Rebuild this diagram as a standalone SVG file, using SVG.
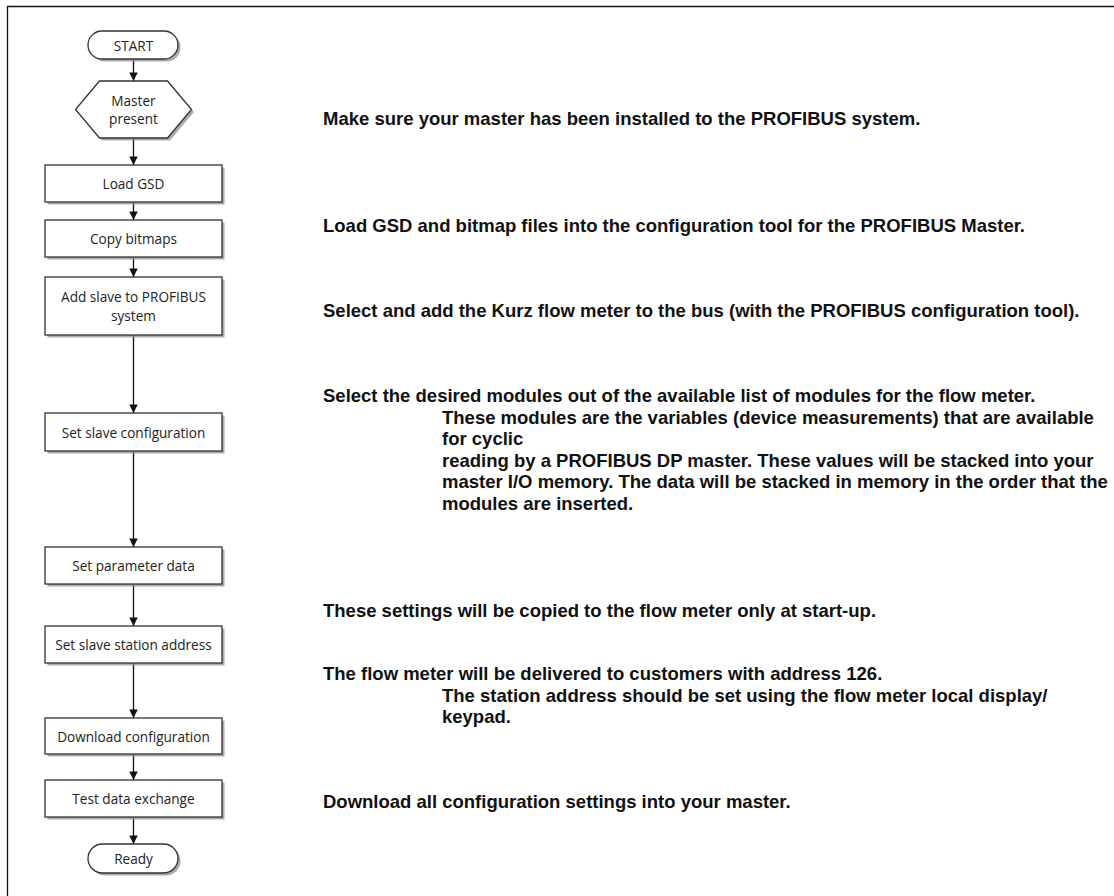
<svg xmlns="http://www.w3.org/2000/svg" width="1114" height="896" viewBox="0 0 1114 896">
<defs>
<style>
.box{fill:#fff;stroke:#333;stroke-width:1.3}
.sh{fill:#8f8f8f;opacity:0.75}
.nt{font-family:"Open Sans","Noto Sans",sans-serif;font-size:13.6px;fill:#222;text-anchor:middle}
.ds{font-family:"Liberation Sans",Arial,sans-serif;font-size:18.5px;font-weight:bold;fill:#111}
.cn{stroke:#111;stroke-width:1.3;fill:none}
</style>
<marker id="ah" viewBox="0 0 10 10" refX="10" refY="5" markerWidth="10" markerHeight="8.5" markerUnits="userSpaceOnUse" orient="auto">
<path d="M0,0 L10,5 L0,10 Z" fill="#111"/>
</marker>
</defs>
<rect x="0" y="0" width="1114" height="896" fill="#fff"/>
<path d="M7.5,896 V6.5 H1114" fill="none" stroke="#111" stroke-width="1.3"/>

<g id="connectors">
<line class="cn" x1="133.5" y1="59" x2="133.5" y2="81" marker-end="url(#ah)"/>
<line class="cn" x1="133.5" y1="138" x2="133.5" y2="165" marker-end="url(#ah)"/>
<line class="cn" x1="133.5" y1="202" x2="133.5" y2="220" marker-end="url(#ah)"/>
<line class="cn" x1="133.5" y1="257" x2="133.5" y2="277" marker-end="url(#ah)"/>
<line class="cn" x1="133.5" y1="335" x2="133.5" y2="413" marker-end="url(#ah)"/>
<line class="cn" x1="133.5" y1="451" x2="133.5" y2="547" marker-end="url(#ah)"/>
<line class="cn" x1="133.5" y1="584" x2="133.5" y2="626" marker-end="url(#ah)"/>
<line class="cn" x1="133.5" y1="663" x2="133.5" y2="718" marker-end="url(#ah)"/>
<line class="cn" x1="133.5" y1="754" x2="133.5" y2="780" marker-end="url(#ah)"/>
<line class="cn" x1="133.5" y1="817" x2="133.5" y2="844" marker-end="url(#ah)"/>
</g>

<g id="start">
<rect class="sh" x="90.5" y="33.5" width="90" height="28" rx="14"/>
<rect class="box" x="88" y="31" width="90" height="28" rx="14"/>
<text class="nt" x="133.5" y="50.5">START</text>
</g>

<g id="master-present">
<polygon class="sh" points="102,83.5 170,83.5 194,112 170,140.5 102,140.5 78,112"/>
<polygon class="box" points="99.5,81 167.5,81 191.5,109.5 167.5,138 99.5,138 75.5,109.5"/>
<text class="nt" x="133.5" y="106">Master</text>
<text class="nt" x="133.5" y="124">present</text>
</g>

<g id="load-gsd">
<rect class="sh" x="47.5" y="167.5" width="177" height="37"/>
<rect class="box" x="45" y="165" width="177" height="37"/>
<text class="nt" x="133.5" y="189">Load GSD</text>
</g>

<g id="copy-bitmaps">
<rect class="sh" x="47.5" y="222.5" width="177" height="37"/>
<rect class="box" x="45" y="220" width="177" height="37"/>
<text class="nt" x="133.5" y="244">Copy bitmaps</text>
</g>

<g id="add-slave">
<rect class="sh" x="47.5" y="279.5" width="177" height="58"/>
<rect class="box" x="45" y="277" width="177" height="58"/>
<text class="nt" x="133.5" y="301.5">Add slave to PROFIBUS</text>
<text class="nt" x="133.5" y="320.5">system</text>
</g>

<g id="set-slave-configuration">
<rect class="sh" x="47.5" y="415.5" width="177" height="38"/>
<rect class="box" x="45" y="413" width="177" height="38"/>
<text class="nt" x="133.5" y="437.5">Set slave configuration</text>
</g>

<g id="set-parameter-data">
<rect class="sh" x="47.5" y="549.5" width="177" height="37"/>
<rect class="box" x="45" y="547" width="177" height="37"/>
<text class="nt" x="133.5" y="571">Set parameter data</text>
</g>

<g id="set-slave-station-address">
<rect class="sh" x="47.5" y="628.5" width="177" height="37"/>
<rect class="box" x="45" y="626" width="177" height="37"/>
<text class="nt" x="133.5" y="650">Set slave station address</text>
</g>

<g id="download-configuration">
<rect class="sh" x="47.5" y="720.5" width="177" height="36"/>
<rect class="box" x="45" y="718" width="177" height="36"/>
<text class="nt" x="133.5" y="741.5">Download configuration</text>
</g>

<g id="test-data-exchange">
<rect class="sh" x="47.5" y="782.5" width="177" height="37"/>
<rect class="box" x="45" y="780" width="177" height="37"/>
<text class="nt" x="133.5" y="804">Test data exchange</text>
</g>

<g id="ready">
<rect class="sh" x="90.5" y="846.5" width="90" height="29" rx="14.5"/>
<rect class="box" x="88" y="844" width="90" height="29" rx="14.5"/>
<text class="nt" x="133.5" y="864">Ready</text>
</g>

<g id="descriptions">
<text class="ds" x="323" y="125">Make sure your master has been installed to the PROFIBUS system.</text>
<text class="ds" x="323" y="231.5">Load GSD and bitmap files into the configuration tool for the PROFIBUS Master.</text>
<text class="ds" x="323" y="317">Select and add the Kurz flow meter to the bus (with the PROFIBUS configuration tool).</text>
<text class="ds" x="323" y="402">Select the desired modules out of the available list of modules for the flow meter.</text>
<text class="ds" x="442" y="423.5">These modules are the variables (device measurements) that are available</text>
<text class="ds" x="442" y="445">for cyclic</text>
<text class="ds" x="442" y="466.5">reading by a PROFIBUS DP master. These values will be stacked into your</text>
<text class="ds" x="442" y="488">master I/O memory. The data will be stacked in memory in the order that the</text>
<text class="ds" x="442" y="509.5">modules are inserted.</text>
<text class="ds" x="323" y="616.5">These settings will be copied to the flow meter only at start-up.</text>
<text class="ds" x="323" y="680">The flow meter will be delivered to customers with address 126.</text>
<text class="ds" x="442" y="701.5">The station address should be set using the flow meter local display/</text>
<text class="ds" x="442" y="723">keypad.</text>
<text class="ds" x="323" y="808">Download all configuration settings into your master.</text>
</g>
</svg>
